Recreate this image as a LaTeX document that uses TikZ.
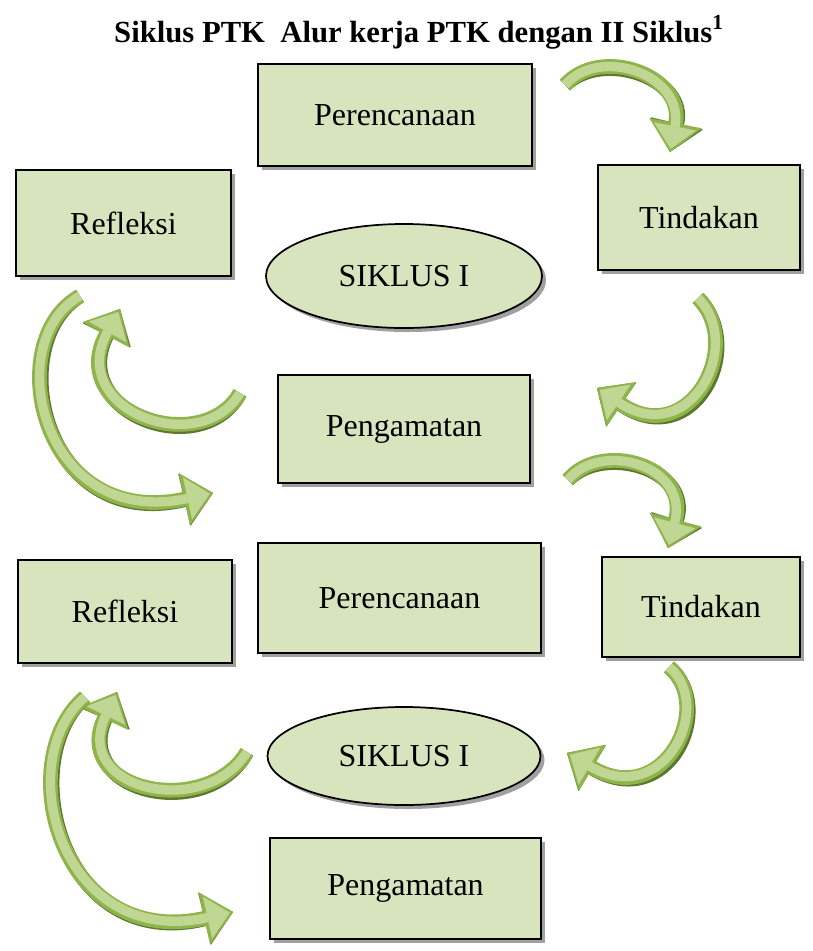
\documentclass[tikz,border=0pt]{standalone}
\usepackage{fontspec}
\setmainfont{Liberation Serif}
\usetikzlibrary{arrows.meta,shapes.geometric,shadows}
\definecolor{boxG}{RGB}{215,228,189}
\definecolor{edgeG}{RGB}{143,180,76}
\definecolor{fillG}{RGB}{192,215,148}
\definecolor{shadowG}{RGB}{92,120,44}
\definecolor{boxShadow}{RGB}{160,160,160}
\tikzset{
  pbox/.style={draw=black, line width=1.3pt, fill=boxG, inner sep=0pt,
    font=\fontsize{24pt}{28pt}\selectfont,
    drop shadow={shadow xshift=3pt, shadow yshift=-3pt, fill=boxShadow, opacity=1}},
  pell/.style={pbox, ellipse},
  arrshadow/.style={line width=11pt, draw=shadowG, xshift=2pt, yshift=-2.5pt,
    -{Triangle[length=22pt,width=40pt,line width=0.1pt,fill=shadowG,color=shadowG]}},
  arredge/.style={line width=11pt, draw=edgeG,
    -{Triangle[length=22pt,width=40pt,line width=0.1pt,fill=edgeG,color=edgeG]}},
  arrinner/.style={line width=7pt, draw=fillG, shorten >=2.5pt,
    -{Triangle[length=17pt,width=32pt,line width=0.1pt,fill=fillG,color=fillG]}}
}
\newcommand\pboxnode[6]{\node[pbox, minimum width={(#4-#2)*0.75pt}, minimum height={(#5-#3)*0.75pt}] (#1) at ({(#2+#4)/2},{(#3+#5)/2}) {#6};}
\newcommand\grarrow[1]{\draw[arrshadow] #1; \draw[arredge] #1; \draw[arrinner] #1;}
\begin{document}
\begin{tikzpicture}[x=0.75pt,y=-0.75pt]
\useasboundingbox (0,0) rectangle (813,951);
\node[anchor=base, font=\bfseries\fontsize{23pt}{27pt}\selectfont] (title) at (419,42) {Siklus PTK\ \ Alur kerja PTK dengan II Siklus\textsuperscript{1}};
% cycle 1
\pboxnode{per1}{258}{64}{532}{166}{Perencanaan}
\pboxnode{ref1}{16}{170}{231}{276}{Refleksi}
\pboxnode{tin1}{598}{165}{800}{270}{Tindakan}
\node[pell, minimum width={276*0.75pt}, minimum height={104*0.75pt}] (sik1) at (404,276) {SIKLUS I};
\pboxnode{pen1}{278}{375}{530}{483}{Pengamatan}
% cycle 2
\pboxnode{per2}{258}{543}{541}{653}{Perencanaan}
\pboxnode{ref2}{18}{560}{232}{663}{Refleksi}
\pboxnode{tin2}{602}{557}{800}{657}{Tindakan}
\node[pell, minimum width={273*0.75pt}, minimum height={98*0.75pt}] (sik2) at (404,756) {SIKLUS I};
\pboxnode{pen2}{270}{838}{541}{939}{Pengamatan}
% arrow end points
\coordinate (a1s) at (565,85);  \coordinate (a1e) at (670,152);
\coordinate (a2s) at (698,298); \coordinate (a2e) at (597,388);
\coordinate (a3s) at (240,393); \coordinate (a3e) at (120,309);
\coordinate (a4s) at (80,296);  \coordinate (a4e) at (213,493);
\coordinate (a5s) at (568,480); \coordinate (a5e) at (668,548);
\coordinate (a6s) at (669,667); \coordinate (a6e) at (567,753);
\coordinate (a7s) at (247,752); \coordinate (a7e) at (117,692);
\coordinate (a8s) at (85,697);  \coordinate (a8e) at (233,912);
\grarrow{(a1s) .. controls (600,45) and (685,75) .. (a1e)}
\grarrow{(a2s) .. controls (745,345) and (690,450) .. (a2e)}
\grarrow{(a3s) .. controls (200,460) and (65,410) .. (a3e)}
\grarrow{(a4s) .. controls (0,340) and (40,530) .. (a4e)}
\grarrow{(a5s) .. controls (600,440) and (690,465) .. (a5e)}
\grarrow{(a6s) .. controls (715,705) and (665,810) .. (a6e)}
\grarrow{(a7s) .. controls (205,820) and (70,790) .. (a7e)}
\grarrow{(a8s) .. controls (10,760) and (60,950) .. (a8e)}
\end{tikzpicture}
\end{document}
